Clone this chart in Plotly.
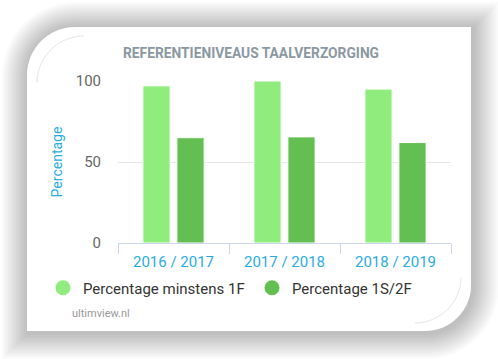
import plotly.graph_objects as go

categories = ["2016 / 2017", "2017 / 2018", "2018 / 2019"]
series_names = ["Percentage minstens 1F", "Percentage 1S/2F"]
values_1f = [97, 100, 95]
values_2f = [65, 65.5, 62]
y_ticks = [0, 50, 100]
colors = ["#90ed7d", "#63bf51"]

W, H = 498, 359
L, R, T, B = 118, 47, 81, 116
PW, PH = W - L - R, H - T - B


def px(x):
    return (x - L) / PW


def py(y):
    return 1 - (y - T) / PH


def card_path(x0, y0, x1, y1, rtl, rbr):
    k = 0.5523
    p = []
    p.append(f"M{px(x0)},{py(y0 + rtl)}")
    p.append(f"C{px(x0)},{py(y0 + rtl - k * rtl)} {px(x0 + rtl - k * rtl)},{py(y0)} {px(x0 + rtl)},{py(y0)}")
    p.append(f"L{px(x1)},{py(y0)}")
    p.append(f"L{px(x1)},{py(y1 - rbr)}")
    p.append(f"C{px(x1)},{py(y1 - rbr + k * rbr)} {px(x1 - rbr + k * rbr)},{py(y1)} {px(x1 - rbr)},{py(y1)}")
    p.append(f"L{px(x0)},{py(y1)}")
    p.append("Z")
    return " ".join(p)


def arc(cx, cy, r, a):
    k = 0.5523
    if a == "tl":
        return (f"M{px(cx - r)},{py(cy)} C{px(cx - r)},{py(cy - k * r)} "
                f"{px(cx - k * r)},{py(cy - r)} {px(cx)},{py(cy - r)}")
    return (f"M{px(cx + r)},{py(cy)} C{px(cx + r)},{py(cy + k * r)} "
            f"{px(cx + k * r)},{py(cy + r)} {px(cx)},{py(cy + r)}")


shapes = []
N = 13
for i in range(N, 0, -1):
    d = i * 2.0
    shapes.append(dict(type="path", xref="paper", yref="paper", layer="below",
                       path=card_path(27 - d + 1, 27 - d + 1, 471 + d + 1.5, 331 + d + 2, 48 + d, 46 + d),
                       fillcolor="rgba(0,0,0,0.019)", line=dict(width=0)))
shapes.append(dict(type="path", xref="paper", yref="paper", layer="below",
                   path=card_path(27, 27, 471, 331, 48, 46),
                   fillcolor="white", line=dict(width=0)))
shapes.append(dict(type="path", xref="paper", yref="paper", layer="below",
                   path=arc(84, 83, 47, "tl"), line=dict(color="#e6e6e6", width=1)))
shapes.append(dict(type="path", xref="paper", yref="paper", layer="below",
                   path=arc(415, 277, 46, "br"), line=dict(color="#e6e6e6", width=1)))

font = "Roboto, 'Noto Sans', sans-serif"

fig = go.Figure()
for name, vals, col in zip(series_names, [values_1f, values_2f], colors):
    fig.add_trace(go.Bar(x=categories, y=vals, name=name, marker_color=col,
                         marker_line=dict(color="white", width=1),
                         showlegend=False, legendgroup=name, hoverinfo="x+y"))
legend_ids = ["legend", "legend2"]
for name, col, lg in zip(series_names, colors, legend_ids):
    fig.add_trace(go.Scatter(x=[None], y=[None], mode="markers", name=name,
                             marker=dict(color=col, size=15, symbol="circle"),
                             legendgroup=name, showlegend=True, legend=lg))

legend_x = [43, 252]
common_leg = dict(orientation="h", xref="container", yref="container",
                  xanchor="left", yanchor="middle",
                  font=dict(size=15, color="#333333", family=font),
                  bgcolor="rgba(0,0,0,0)", itemclick=False, itemdoubleclick=False,
                  borderwidth=0)

fig.update_layout(
    width=W, height=H,
    margin=dict(l=L, r=R, t=T, b=B, pad=0, autoexpand=False),
    paper_bgcolor="white", plot_bgcolor="rgba(0,0,0,0)",
    barmode="group", bargap=0.387, bargroupgap=0.2,
    font=dict(family=font),
    shapes=shapes,
    showlegend=True,
    legend=dict(common_leg, x=legend_x[0] / W, y=1 - 288 / H),
    legend2=dict(common_leg, x=legend_x[1] / W, y=1 - 288 / H),
    annotations=[
        dict(text="<b>REFERENTIENIVEAUS TAALVERZORGING</b>", xref="paper", yref="paper",
             x=px(121), y=py(53), xanchor="left", yanchor="middle", showarrow=False,
             font=dict(size=13.8, color="#8b98a2", family=font)),
        dict(text="ultimview.nl", xref="paper", yref="paper",
             x=px(70), y=py(313), xanchor="left", yanchor="middle", showarrow=False,
             font=dict(size=11, color="#999999", family=font)),
    ],
)
fig.update_xaxes(type="category", showline=True, linecolor="#ccd6eb", linewidth=1,
                 ticks="outside", tickson="boundaries", ticklen=10, tickcolor="#ccd6eb",
                 ticklabelstandoff=5,
                 tickfont=dict(size=15, color="#2aace2", family=font),
                 showgrid=False, zeroline=False, fixedrange=True)
fig.update_yaxes(range=[0, 100], tickvals=y_ticks, showgrid=True, gridcolor="#e6e6e6",
                 zeroline=False, showline=False, ticks="", ticklabelstandoff=16,
                 tickfont=dict(size=15, color="#666666", family=font),
                 title=dict(text="Percentage", standoff=9,
                            font=dict(size=14, color="#2aace2", family=font)),
                 fixedrange=True)

fig.write_html("out.html", config={"displayModeBar": False},
               post_script="document.body.style.margin='0';")
